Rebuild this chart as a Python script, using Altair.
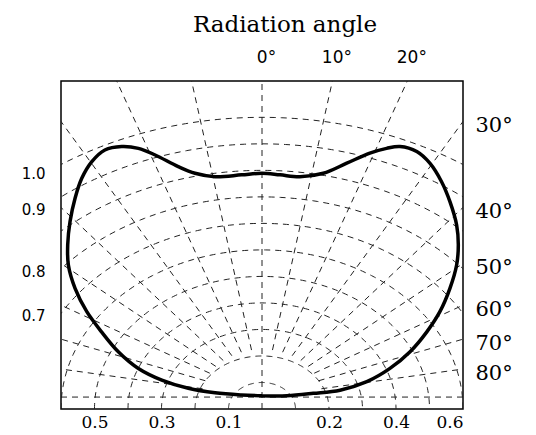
import numpy as np
import pandas as pd
import altair as alt

# ---- data (chart units: 0.1 per bottom tick) ----
# radiation curve traced from the bottom centre, up the left side, across the top, down the right side
curve_x = [0.0, -0.061, -0.140, -0.220, -0.299, -0.369, -0.429, -0.479, -0.523, -0.558,
           -0.578, -0.580, -0.573, -0.558, -0.538, -0.508, -0.469, -0.419, -0.369, -0.319,
           -0.250, -0.200, -0.140, -0.061, 0.0,
           0.054, 0.113, 0.183, 0.253, 0.322, 0.372, 0.412, 0.462, 0.501, 0.536,
           0.561, 0.581, 0.586, 0.581, 0.561, 0.531, 0.492, 0.442, 0.382, 0.313,
           0.233, 0.153, 0.074, 0.0]
curve_y = [0.005, 0.008, 0.016, 0.033, 0.064, 0.108, 0.171, 0.246, 0.322, 0.410,
           0.498, 0.574, 0.662, 0.750, 0.825, 0.888, 0.932, 0.945, 0.938, 0.913,
           0.869, 0.844, 0.831, 0.838, 0.844,
           0.838, 0.831, 0.844, 0.882, 0.920, 0.938, 0.945, 0.926, 0.882, 0.812,
           0.737, 0.649, 0.574, 0.498, 0.410, 0.322, 0.246, 0.171, 0.108, 0.058,
           0.026, 0.014, 0.005, 0.005]

bottom_ticks = [-0.5, -0.3, -0.1, 0.2, 0.4, 0.6]
top_angles = [0, 10, 20]
right_angles = [30, 40, 50, 60, 70, 80]
left_labels = ["1.0", "0.9", "0.8", "0.7"]
left_label_pos = [0.842, 0.706, 0.475, 0.309]
radial_angles = list(range(-80, 81, 10))
arc_radii = [0.1, 0.2, 0.3, 0.4, 0.5, 0.6, 0.7, 0.8, 0.9, 1.0, 1.1]

X_DOM = [-0.6, 0.6]
Y_DOM = [-0.045, 1.192]
ARC_CY = -0.045

# ---- tables ----
curve_df = pd.DataFrame({"x": curve_x, "y": curve_y, "i": range(len(curve_x))})

phi = np.linspace(-90, 90, 181)
arc_rows = []
for R in arc_radii:
    for p in phi:
        arc_rows.append({"R": R, "phi": p,
                         "x": R * np.sin(np.radians(p)),
                         "y": ARC_CY + R * np.cos(np.radians(p))})
arc_df = pd.DataFrame(arc_rows)

rad_rows = []
for a in radial_angles:
    t = np.radians(a)
    r0 = 0.18 if a != 0 else 0.0
    rad_rows.append({"x": r0 * np.sin(t), "y": (r0 * np.cos(t)) if a != 0 else Y_DOM[0],
                     "x2": 2 * np.sin(t), "y2": 2 * np.cos(t)})
rad_df = pd.DataFrame(rad_rows)

xs = alt.Scale(domain=X_DOM, nice=False, zero=False)
ys = alt.Scale(domain=Y_DOM, nice=False, zero=False)

common = dict(ticks=False, domain=False, grid=False, title=None, labelColor="black")

bottom_axis = alt.Axis(orient="bottom", values=bottom_ticks,
                       labelExpr="format(abs(datum.value), '.1f')",
                       labelFont="DejaVu Serif", labelFontSize=17, labelPadding=5,
                       **common)
left_axis = alt.Axis(orient="left", values=left_label_pos,
                     labelExpr="[" + ",".join("'%s'" % s for s in left_labels) + "][indexof(["
                               + ",".join(str(v) for v in left_label_pos) + "], datum.value)]",
                     labelFont="DejaVu Sans", labelFontSize=15, labelPadding=16,
                     **common)
top_axis = alt.Axis(orient="top", values=[Y_DOM[1] * np.tan(np.radians(a)) for a in top_angles],
                    labelExpr="round(atan(datum.value / %f) * 180 / PI) + '°'" % Y_DOM[1],
                    labelFont="DejaVu Sans", labelFontSize=17, labelPadding=15, labelOffset=4,
                    **common)
right_axis = alt.Axis(orient="right",
                      values=[X_DOM[1] / np.tan(np.radians(a)) for a in right_angles],
                      labelExpr="round(atan(%f / datum.value) * 180 / PI) + '°'" % X_DOM[1],
                      labelFont="DejaVu Serif", labelFontSize=21, labelPadding=12, labelOffset=4,
                      labelAlign="left", **common)

dash = dict(strokeDash=[6, 5], strokeWidth=1, color="#222", clip=True)

arcs = alt.Chart(arc_df).mark_line(**dash).encode(
    x=alt.X("x:Q", scale=xs, axis=bottom_axis),
    y=alt.Y("y:Q", scale=ys, axis=left_axis),
    detail="R:N", order="phi:Q")

radials = alt.Chart(rad_df).mark_rule(**dash).encode(
    x=alt.X("x:Q", scale=xs, axis=None),
    y=alt.Y("y:Q", scale=ys, axis=None),
    x2="x2:Q", y2="y2:Q")

baseline = alt.Chart(pd.DataFrame({"y": [0.0]})).mark_rule(**dash).encode(
    y=alt.Y("y:Q", scale=ys, axis=None))

curve = alt.Chart(curve_df).mark_line(strokeWidth=3.5, color="black",
                                      interpolate="catmull-rom", clip=True).encode(
    x=alt.X("x:Q", scale=xs, axis=top_axis),
    y=alt.Y("y:Q", scale=ys, axis=right_axis),
    order="i:Q")

chart = alt.layer(arcs, radials, baseline, curve).resolve_axis(
    x="independent", y="independent"
).properties(
    width=402, height=328,
    title=alt.Title("Radiation angle", font="DejaVu Serif", fontSize=23,
                    fontWeight="normal", anchor="middle", dx=23, offset=11, color="black"),
    padding={"left": 53, "top": 73, "right": 60, "bottom": 25},
    autosize=alt.AutoSizeParams(type="none"),
    background="white",
).configure_view(stroke="black", strokeWidth=1.5)

chart.save("out.html", embed_options={"renderer": "svg", "actions": False})
